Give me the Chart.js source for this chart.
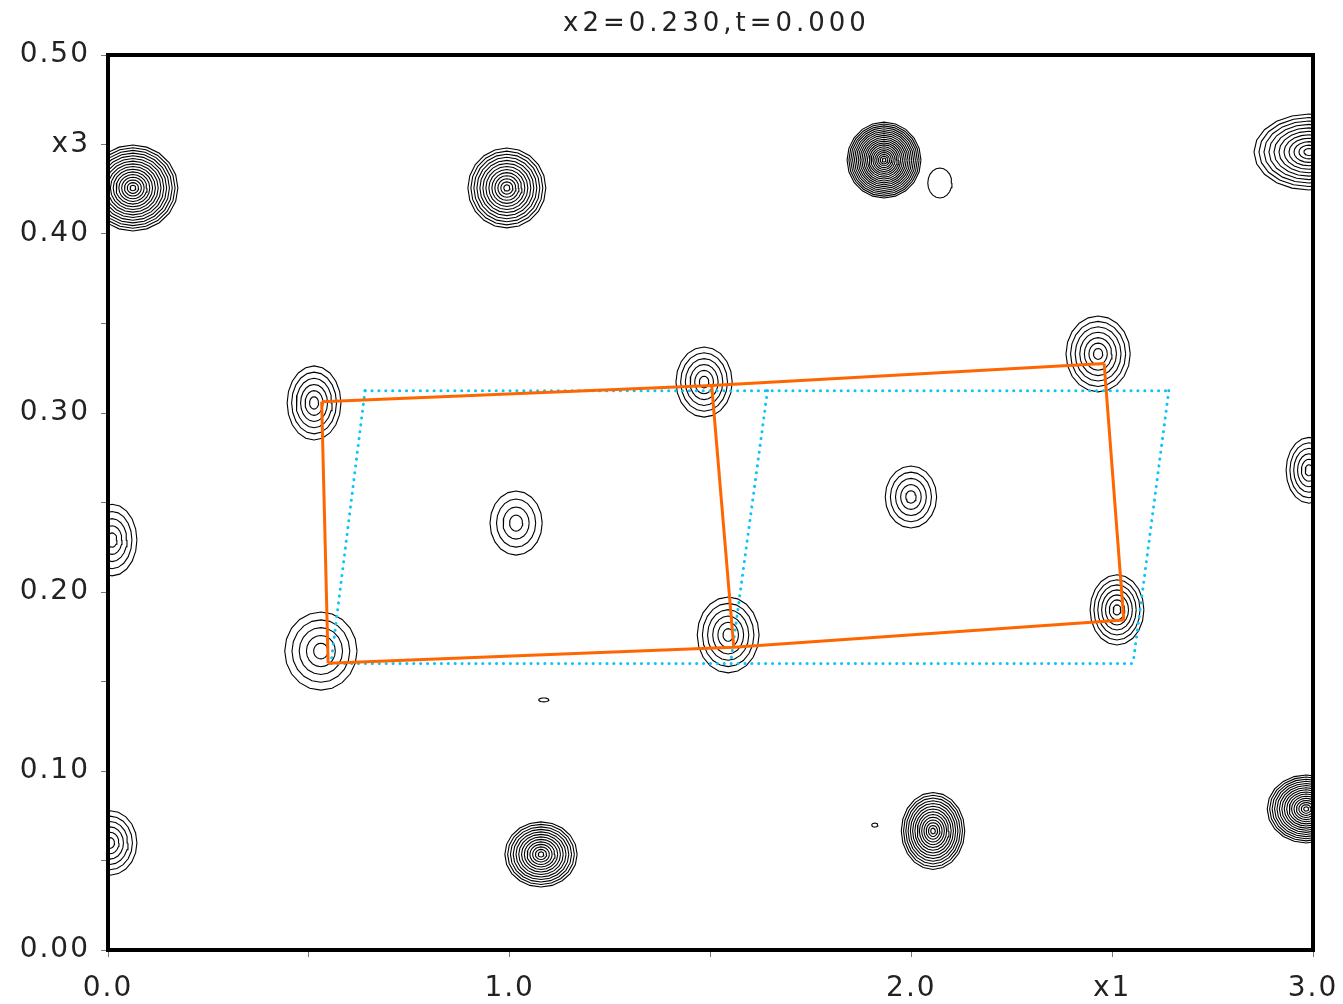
<!DOCTYPE html>
<html>
<head>
<meta charset="utf-8">
<script src="https://cdn.jsdelivr.net/npm/chart.js@4"></script>
<style>
  body { margin: 0; background: #fff; }
  #wrap { width: 1343px; height: 1004px; }
</style>
</head>
<body>
<div id="wrap"><canvas id="mapChart" width="1343" height="1004"></canvas></div>
<script>
// tick labels
const xTickLabels = ['0.0', '', '1.0', '', '2.0', 'x1', '3.0'];
const yTickLabels = ['0.00', '', '0.10', '', '0.20', '', '0.30', '', '0.40', 'x3', '0.50'];
const titleText = 'x2=0.230,t=0.000';

// orange cell (modulated)
const cellTopX = [0.532, 1.503, 2.480];
const cellTopY = [0.3063, 0.3153, 0.3277];
const cellBottomX = [0.548, 1.558, 2.529];
const cellBottomY = [0.1602, 0.1691, 0.1844];

// cyan dotted cell (average)
const avgTopX = [0.640, 1.642, 2.641];
const avgTopY = [0.3125, 0.3125, 0.3125];
const avgBottomX = [0.555, 1.550, 2.552];
const avgBottomY = [0.160, 0.160, 0.160];

// contour peaks: centre, outer half-widths, number of contour levels
const peakX     = [0.062, 0.993, 1.932, 2.071, 2.990, 0.513, 1.484, 2.465, 0.010, 1.016, 1.999, 2.990, 0.530, 1.544, 2.512, 1.085, 0.005, 1.078, 1.909, 2.054, 2.983];
const peakY     = [0.4257, 0.4257, 0.4413, 0.4285, 0.4458, 0.3056, 0.3173, 0.3330, 0.2290, 0.2385, 0.2531, 0.2680, 0.1670, 0.1760, 0.1900, 0.1397, 0.0598, 0.0534, 0.0698, 0.0665, 0.0788];
const peakRX    = [0.112, 0.097, 0.092, 0.030, 0.137, 0.067, 0.070, 0.080, 0.062, 0.065, 0.064, 0.057, 0.090, 0.077, 0.067, 0.0125, 0.067, 0.090, 0.0075, 0.079, 0.097];
const peakRY    = [0.0240, 0.0223, 0.0212, 0.0084, 0.0212, 0.0207, 0.0196, 0.0212, 0.0200, 0.0179, 0.0173, 0.0184, 0.0218, 0.0212, 0.0196, 0.0011, 0.0180, 0.0182, 0.0011, 0.0215, 0.0190];
const peakRings = [16, 13, 20, 1, 11, 6, 6, 7, 5, 4, 5, 6, 5, 6, 7, 1, 6, 13, 1, 14, 16];

const orange = '#ff6600';
const cyan = '#0cc4f8';

function segment(x1, y1, x2, y2) {
    return [{ x: x1, y: y1 }, { x: x2, y: y2 }];
}

const datasets = [];

// orange lines
datasets.push({ data: cellTopX.map((x, i) => ({ x: x, y: cellTopY[i] })), borderColor: orange, borderWidth: 3, order: 0 });
datasets.push({ data: cellBottomX.map((x, i) => ({ x: x, y: cellBottomY[i] })), borderColor: orange, borderWidth: 3, order: 0 });
cellTopX.forEach((x, i) => {
    datasets.push({ data: segment(x, cellTopY[i], cellBottomX[i], cellBottomY[i]), borderColor: orange, borderWidth: 3, order: 0 });
});

// cyan dotted lines
const dotted = { borderColor: cyan, borderWidth: 3, borderDash: [0.1, 6.8], borderCapStyle: 'round', order: 1 };
datasets.push(Object.assign({ data: segment(avgTopX[0], avgTopY[0], avgTopX[2], avgTopY[2]) }, dotted));
datasets.push(Object.assign({ data: segment(avgBottomX[0], avgBottomY[0], avgBottomX[2], avgBottomY[2]) }, dotted));
avgTopX.forEach((x, i) => {
    datasets.push(Object.assign({ data: segment(x, avgTopY[i], avgBottomX[i], avgBottomY[i]) }, dotted));
});

// contour rings
const steps = 20;
peakX.forEach((cx, p) => {
    const n = peakRings[p];
    for (let k = 1; k <= n; k++) {
        const f = k / n;
        const pts = [];
        for (let j = 0; j <= steps; j++) {
            const a = (j / steps) * Math.PI * 2;
            pts.push({ x: cx + peakRX[p] * f * Math.cos(a), y: peakY[p] + peakRY[p] * f * Math.sin(a) });
        }
        datasets.push({ data: pts, borderColor: '#000', borderWidth: 1.1, order: 2 });
    }
});

const frameAndTitle = {
    id: 'frameAndTitle',
    beforeDraw(chart) {
        chart.ctx.letterSpacing = '2px';
    },
    afterDatasetsDraw(chart) {
        const { ctx, chartArea: a } = chart;
        ctx.save();
        ctx.strokeStyle = '#000';
        ctx.lineWidth = 4;
        ctx.strokeRect(a.left, a.top, a.right - a.left, a.bottom - a.top);
        ctx.letterSpacing = '4px';
        ctx.fillStyle = '#222';
        ctx.font = '26px "DejaVu Sans"';
        ctx.textAlign = 'center';
        ctx.textBaseline = 'middle';
        ctx.fillText(titleText, (a.left + a.right) / 2 + 6, 24);
        ctx.restore();
    }
};

const tickFont = { family: 'DejaVu Sans', size: 28 };

new Chart(document.getElementById('mapChart'), {
    type: 'scatter',
    data: { datasets: datasets },
    options: {
        responsive: false,
        animation: false,
        showLine: true,
        elements: { point: { radius: 0 }, line: { tension: 0 } },
        layout: { padding: { top: 55, right: 30, left: 0, bottom: 0 } },
        plugins: { legend: { display: false }, tooltip: { enabled: false } },
        scales: {
            x: {
                type: 'linear', min: 0, max: 3,
                afterFit(s) { s.height = 54; s.paddingLeft = 0; s.paddingRight = 0; },
                border: { display: false },
                grid: { drawOnChartArea: false, drawTicks: true, tickLength: 7, color: '#777' },
                ticks: {
                    stepSize: 0.5, autoSkip: false, maxRotation: 0, padding: 15,
                    color: '#222', font: tickFont,
                    callback: (v, i) => xTickLabels[i]
                }
            },
            y: {
                type: 'linear', min: 0, max: 0.5,
                afterFit(s) { s.width = 108; s.paddingTop = 0; s.paddingBottom = 0; },
                border: { display: false },
                grid: { drawOnChartArea: false, drawTicks: true, tickLength: 7, color: '#777' },
                ticks: {
                    stepSize: 0.05, autoSkip: false, padding: 11,
                    color: '#222', font: tickFont,
                    callback: (v, i) => yTickLabels[i]
                }
            }
        }
    },
    plugins: [frameAndTitle]
});
</script>
</body>
</html>
